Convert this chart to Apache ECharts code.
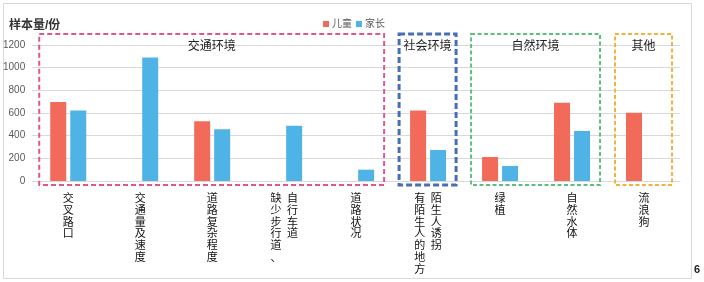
<!DOCTYPE html>
<html>
<head>
<meta charset="utf-8">
<script src="https://cdn.jsdelivr.net/npm/echarts@6/dist/echarts.min.js"></script>
<style>
html,body{margin:0;padding:0;background:#fff;}
#c{width:704px;height:282px;}
</style>
</head>
<body>
<div id="c"></div>
<script>
// ---- data ----
var categories = ['交叉路口', '交通量及速度', '道路复杂程度', '缺少步行道、\n自行车道', '道路状况', '有陌生人的地方\n陌生人诱拐', '绿植', '自然水体', '流浪狗'];
var children = [696, null, 528, null, null, 622, 212, 690, 602];
var parents = [622, 1090, 457, 487, 100, 274, 133, 442, null];
var yTicks = [0, 200, 400, 600, 800, 1000, 1200];
var groupNames = ['交通环境', '社会环境', '自然环境', '其他'];
var groupStart = [0, 5, 6, 8];
var groupEnd = [4, 5, 7, 8];
var seriesNames = ['儿童', '家长'];

// ---- styles ----
var groupStyles = [
  {color: '#E3558B', width: 2, dash: [5, 3]},
  {color: '#4A6DB8', width: 3, dash: [6, 3]},
  {color: '#5CBF7E', width: 2, dash: [4, 2.5]},
  {color: '#F2B23E', width: 2, dash: [4, 2.5]}
];
var FONT = '"Liberation Sans", "Noto Sans CJK SC", sans-serif';

function verticalLabel(v) {
  var cols = v.split('\n').map(function (s) { return Array.from(s); });
  var n = Math.max.apply(null, cols.map(function (c) { return c.length; }));
  var lines = [];
  for (var i = 0; i < n; i++) {
    var parts = cols.map(function (c) { return c[i] || '\u3000'; });
    lines.push(parts.join(cols.length > 1 ? '\u2002' : ''));
  }
  return lines.join('\n');
}

var chart = echarts.init(document.getElementById('c'), null, {renderer: 'canvas'});
var option = {
  backgroundColor: '#fff',
  animation: false,
  textStyle: {fontFamily: FONT},
  title: {
    text: '样本量/份', left: 4, top: 15,
    textStyle: {fontSize: 12, fontWeight: 'bold', color: '#333', fontFamily: FONT}
  },
  legend: {
    data: seriesNames, left: 318, top: 14,
    itemWidth: 6, itemHeight: 6, itemGap: 4, icon: 'rect',
    textStyle: {fontSize: 10, color: '#595959', padding: [0, 0, 0, -2]}
  },
  grid: {left: 32, right: 24, top: 45, bottom: 101, containLabel: false},
  xAxis: {
    type: 'category', data: categories,
    axisLine: {show: true, lineStyle: {color: '#D9D9D9'}},
    axisTick: {show: false},
    axisLabel: {
      interval: 0, margin: 11, fontSize: 11, lineHeight: 11.8, color: '#111',
      fontFamily: '"Noto Sans CJK SC", sans-serif',
      formatter: verticalLabel
    }
  },
  yAxis: {
    type: 'value', min: 0, max: 1200, interval: 200,
    axisLine: {show: false}, axisTick: {show: false},
    splitLine: {lineStyle: {color: '#D9D9D9', width: 1}},
    axisLabel: {fontSize: 10, color: '#595959', margin: 7,
      formatter: function (v) { return yTicks.indexOf(v) >= 0 ? String(v) : ''; }}
  },
  series: [
    {name: seriesNames[0], type: 'bar', data: children, barWidth: 16, barGap: '25%',
      itemStyle: {color: '#F26A5A'}},
    {name: seriesNames[1], type: 'bar', data: parents, barWidth: 16, barGap: '25%',
      itemStyle: {color: '#50B3E6'}}
  ]
};
chart.setOption(option);

// annotation boxes built from axis scales
var yTop = chart.convertToPixel({yAxisIndex: 0}, 1200);
var yZero = chart.convertToPixel({yAxisIndex: 0}, 0);
var graphics = [];
graphics.push({type: 'rect', shape: {x: 3.5, y: 3.5, width: 688, height: 275},
  style: {fill: 'none', stroke: '#D9D9D9', lineWidth: 1}, z: -1, silent: true});
for (var g = 0; g < groupNames.length; g++) {
  var x0 = chart.convertToPixel({xAxisIndex: 0}, groupStart[g]) - 29;
  var x1 = chart.convertToPixel({xAxisIndex: 0}, groupEnd[g]) + 28;
  var st = groupStyles[g];
  graphics.push({type: 'rect', shape: {x: x0, y: yTop - 11, width: x1 - x0, height: yZero - yTop + 15},
    style: {fill: 'none', stroke: st.color, lineWidth: st.width, lineDash: st.dash}, z: 10, silent: true});
  graphics.push({type: 'text', x: (x0 + x1) / 2, y: yTop,
    style: {text: groupNames[g], fontSize: 12, fill: '#222', align: 'center', verticalAlign: 'middle',
      fontFamily: '"Noto Sans CJK SC", sans-serif'}, z: 11, silent: true});
}
graphics.push({type: 'text', x: 697, y: 270,
  style: {text: '6', fontSize: 11, fontWeight: 'bold', fill: '#222', align: 'center', verticalAlign: 'middle', fontFamily: FONT}});
chart.setOption({graphic: graphics});
</script>
</body>
</html>
